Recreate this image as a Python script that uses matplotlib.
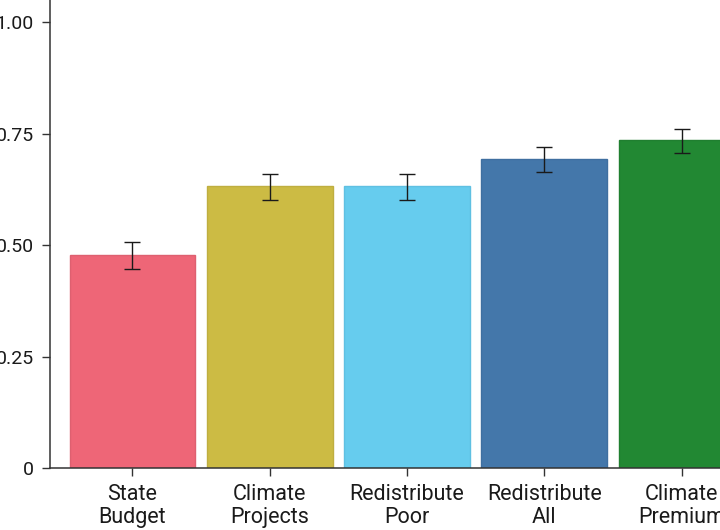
"""Bar chart: support share per policy option, with error bars."""
import matplotlib
matplotlib.use('Agg')
import matplotlib.pyplot as plt

categories = ['State\nBudget', 'Climate\nProjects', 'Redistribute\nPoor',
              'Redistribute\nAll', 'Climate\nPremium']
values = [0.478, 0.632, 0.632, 0.693, 0.736]
err_low = [0.031, 0.031, 0.031, 0.029, 0.029]
err_high = [0.029, 0.027, 0.027, 0.027, 0.024]
colors = ['#EE6677', '#CCBB44', '#66CCEE', '#4477AA', '#228833']
edges = ['#DE6070', '#BFAE40', '#5FC0E2', '#3F6FA0', '#207F30']
y_ticks = [0, 0.25, 0.50, 0.75, 1.00]
y_tick_labels = ['0', '0.25', '0.50', '0.75', '1.00']

plt.rcParams['font.family'] = ['Roboto', 'DejaVu Sans']

fig = plt.figure(figsize=(7.2, 5.3), dpi=100, facecolor='white')
# axes run past the right edge, like the cropped original
ax = fig.add_axes([50 / 720, 62 / 530, 714 / 720, 468 / 530])

x = range(len(categories))
ax.bar(x, values, width=0.915, color=colors, edgecolor=edges, linewidth=1, zorder=2)
ax.errorbar(x, values, yerr=[err_low, err_high], fmt='none', ecolor='#1a1a1a',
            elinewidth=1, capsize=5.5, capthick=1, zorder=3)

ax.set_xlim(-0.6, 4.6)
ax.set_ylim(0, 1.05)
ax.set_xticks(list(x))
ax.set_xticklabels(categories, fontsize=15.5, color='#1a1a1a', linespacing=1.1)
ax.set_yticks(y_ticks)
ax.set_yticklabels(y_tick_labels, fontsize=14, color='#1a1a1a')

for side in ['top', 'right']:
    ax.spines[side].set_visible(False)
for side in ['left', 'bottom']:
    ax.spines[side].set_color('#333333')
    ax.spines[side].set_linewidth(1.1)
ax.tick_params(axis='both', length=5.5, width=1, color='#333333')
ax.tick_params(axis='x', pad=6)
ax.tick_params(axis='y', pad=6)

plt.savefig('out.png', dpi=100, facecolor='white')
plt.close(fig)
